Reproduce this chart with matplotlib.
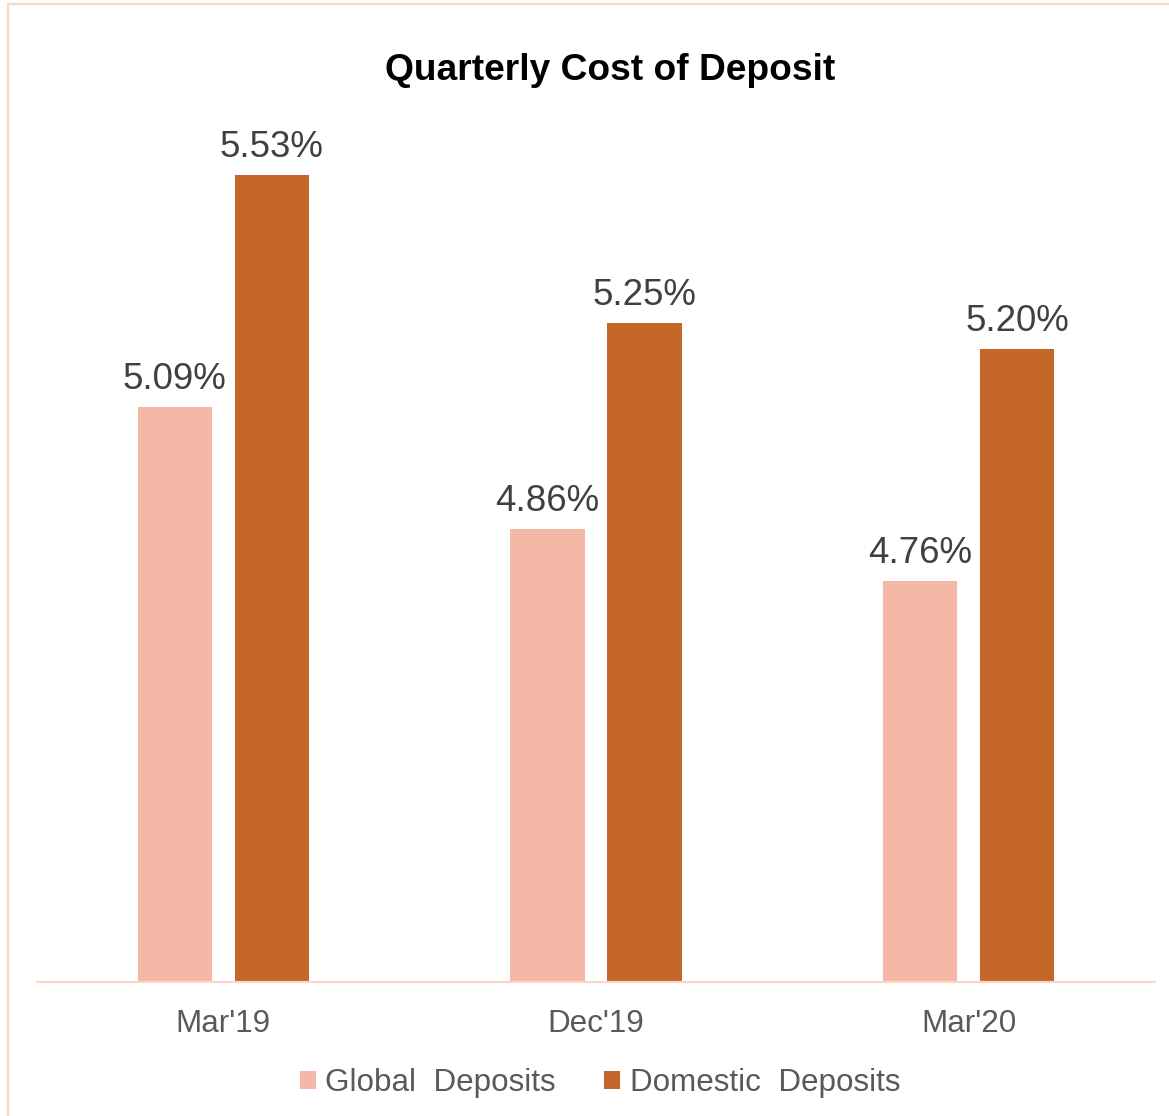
import numpy as np
import matplotlib
matplotlib.use("Agg")
import matplotlib.pyplot as plt
from matplotlib.patches import Rectangle

# DATA
quarters = ["Mar'19", "Dec'19", "Mar'20"]
global_deposits = [5.09, 4.86, 4.76]
domestic_deposits = [5.53, 5.25, 5.20]
series_names = ["Global  Deposits", "Domestic  Deposits"]

light_color = "#F4B9A6"
dark_color = "#C46628"

plt.rcParams["font.family"] = ["Liberation Sans", "DejaVu Sans"]

fig = plt.figure(figsize=(11.69, 11.16), dpi=100)

# outer chart frame
fig.patches.append(
    Rectangle((8 / 1169, -0.01), 1.2, 1 - 4 / 1116 + 0.01,
              transform=fig.transFigure, fill=False,
              edgecolor="#FBD5C8", linewidth=1.6)
)

ax = fig.add_axes([37 / 1169, 0.1197, (1155 - 37) / 1169, 0.8036])

x = np.arange(len(quarters))
width = 0.199
offset = 0.13

bars_g = ax.bar(x - offset, global_deposits, width, color=light_color,
                label=series_names[0])
bars_d = ax.bar(x + offset, domestic_deposits, width, color=dark_color,
                label=series_names[1])

for bars, vals in [(bars_g, global_deposits), (bars_d, domestic_deposits)]:
    for b, v in zip(bars, vals):
        ax.annotate(f"{v:.2f}%", (b.get_x() + b.get_width() / 2, v),
                    xytext=(0, 13), textcoords="offset points",
                    ha="center", va="baseline", fontsize=26.4,
                    color="#404040")

ax.set_ylim(4.0, 5.7)
ax.set_xlim(-0.5, 2.5)
ax.set_yticks([])
ax.set_xticks(x)
ax.set_xticklabels(quarters, fontsize=22.6, color="#595959")
ax.tick_params(axis="x", length=0, pad=19)

for s in ["top", "right", "left"]:
    ax.spines[s].set_visible(False)
ax.spines["bottom"].set_color("#FBD5C8")
ax.spines["bottom"].set_linewidth(1.6)

fig.text(610 / 1169, 1 - 71 / 1116, "Quarterly Cost of Deposit",
         ha="center", va="center", fontsize=26.7, fontweight="bold",
         color="black")

fig.legend(loc="center", bbox_to_anchor=(600 / 1169, 33 / 1116), ncol=2,
           frameon=False, fontsize=22.6, labelcolor="#595959",
           handlelength=0.5, handleheight=0.5, handletextpad=0.3,
           columnspacing=1.55)

fig.savefig("out.png", dpi=100)
